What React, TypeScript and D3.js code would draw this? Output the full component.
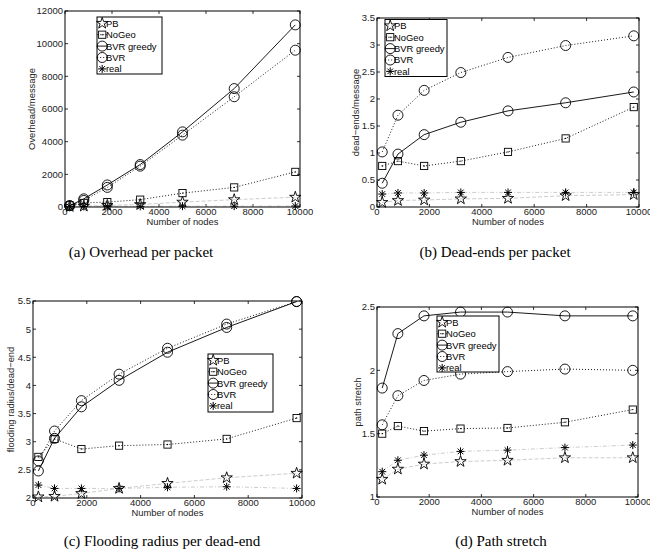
import React from "react";
import * as d3 from "d3";

// shared x values and legend names
const nodes = [200, 800, 1800, 3200, 5000, 7200, 9800];
const xTicks = [0, 2000, 4000, 6000, 8000, 10000];
const names = ["PB", "NoGeo", "BVR greedy", "BVR", "real"];

// (a) Overhead per packet
const overheadPB = [30, 50, 100, 150, 300, 450, 600];
const overheadNoGeo = [100, 250, 300, 450, 850, 1200, 2150];
const overheadGreedy = [80, 500, 1350, 2600, 4600, 7250, 11150];
const overheadBVR = [80, 400, 1200, 2500, 4400, 6750, 9600];
const overheadReal = [20, 30, 40, 40, 50, 50, 60];
const overheadTicks = [0, 2000, 4000, 6000, 8000, 10000, 12000];

// (b) Dead-ends per packet
const deadPB = [0.085, 0.12, 0.13, 0.15, 0.16, 0.21, 0.23];
const deadNoGeo = [0.76, 0.85, 0.76, 0.85, 1.02, 1.27, 1.85];
const deadGreedy = [0.44, 0.98, 1.34, 1.57, 1.78, 1.93, 2.13];
const deadBVR = [1.02, 1.7, 2.16, 2.49, 2.77, 2.99, 3.17];
const deadReal = [0.24, 0.26, 0.26, 0.27, 0.27, 0.27, 0.27];
const deadTicks = [0, 0.5, 1, 1.5, 2, 2.5, 3, 3.5];

// (c) Flooding radius per dead-end
const floodPB = [2.02, 2.03, 2.08, 2.17, 2.26, 2.36, 2.44];
const floodNoGeo = [2.73, 3.05, 2.87, 2.93, 2.95, 3.05, 3.42];
const floodGreedy = [2.48, 3.06, 3.62, 4.09, 4.59, 5.03, 5.49];
const floodBVR = [2.66, 3.19, 3.73, 4.2, 4.66, 5.09, 5.49];
const floodReal = [2.23, 2.17, 2.17, 2.17, 2.19, 2.2, 2.17];
const floodTicks = [2, 2.5, 3, 3.5, 4, 4.5, 5, 5.5];

// (d) Path stretch
const stretchPB = [1.14, 1.22, 1.26, 1.28, 1.29, 1.31, 1.31];
const stretchNoGeo = [1.5, 1.56, 1.52, 1.54, 1.545, 1.59, 1.69];
const stretchGreedy = [1.86, 2.29, 2.43, 2.46, 2.46, 2.43, 2.43];
const stretchBVR = [1.57, 1.8, 1.92, 1.97, 1.99, 2.01, 2.0];
const stretchReal = [1.2, 1.29, 1.33, 1.36, 1.37, 1.39, 1.41];
const stretchTicks = [1, 1.5, 2, 2.5];

const AXIS_FONT = "'Liberation Sans', Arial, sans-serif";
const CAPTION_FONT = "'Liberation Serif', 'Times New Roman', serif";
const GRAY = "#c6c6c6";

const styles = [
  { marker: "star", stroke: GRAY, dash: "4,2" },
  { marker: "square", stroke: "#000", dash: "1,2" },
  { marker: "circle", stroke: "#000", dash: undefined },
  { marker: "circle", stroke: "#000", dash: "1,2" },
  { marker: "asterisk", stroke: GRAY, dash: "4,2,1,2" },
];

const starPath = d3.symbol(d3.symbolStar, 40)() || "";

function Marker({ kind, x, y }: { kind: string; x: number; y: number }) {
  const common = { fill: "none", stroke: "#000", strokeWidth: 0.9 };
  if (kind === "star") {
    return <path d={starPath} transform={`translate(${x},${y})`} {...common} />;
  }
  if (kind === "square") {
    return (
      <g>
        <rect x={x - 3.6} y={y - 3.6} width={7.2} height={7.2} {...common} />
        <circle cx={x} cy={y} r={0.7} fill="#000" />
      </g>
    );
  }
  if (kind === "circle") {
    return <circle cx={x} cy={y} r={5} {...common} />;
  }
  // asterisk: 4 strokes through the centre
  const r = 4;
  const a = r * Math.SQRT1_2;
  return (
    <path
      d={`M${x - r},${y}H${x + r}M${x},${y - r}V${y + r}M${x - a},${y - a}L${x + a},${y + a}M${x - a},${y + a}L${x + a},${y - a}`}
      stroke="#000"
      strokeWidth={1}
      fill="none"
    />
  );
}

interface PanelProps {
  box: { x0: number; x1: number; y0: number; y1: number };
  yDomain: [number, number];
  yTicks: number[];
  yLabel: string;
  yLabelX: number;
  series: number[][];
  legend: { x: number; y: number; w: number; h: number };
  caption: string;
  captionX: number;
  captionY: number;
}

function Panel({ box, yDomain, yTicks, yLabel, yLabelX, series, legend, caption, captionX, captionY }: PanelProps) {
  const x = d3.scaleLinear().domain([0, 10000]).range([box.x0, box.x1]);
  const y = d3.scaleLinear().domain(yDomain).range([box.y1, box.y0]);
  const line = d3
    .line<number>()
    .x((_, i) => x(nodes[i]))
    .y((d) => y(d));
  const tl = 3;
  const yMid = (box.y0 + box.y1) / 2;

  return (
    <g>
      {/* ticks on all four sides, pointing inward */}
      {xTicks.map((t) => (
        <g key={"x" + t}>
          <line x1={x(t)} x2={x(t)} y1={box.y1} y2={box.y1 - tl} stroke="#000" strokeWidth={0.8} />
          <line x1={x(t)} x2={x(t)} y1={box.y0} y2={box.y0 + tl} stroke="#000" strokeWidth={0.8} />
          <text x={x(t)} y={box.y1 + 8} textAnchor="middle" fontSize={9.5} fill="#222" fontFamily={AXIS_FONT}>
            {t}
          </text>
        </g>
      ))}
      {yTicks.map((t) => (
        <g key={"y" + t}>
          <line x1={box.x0} x2={box.x0 + tl} y1={y(t)} y2={y(t)} stroke="#000" strokeWidth={0.8} />
          <line x1={box.x1} x2={box.x1 - tl} y1={y(t)} y2={y(t)} stroke="#000" strokeWidth={0.8} />
          <text x={box.x0 - 2} y={y(t) + 3.4} textAnchor="end" fontSize={9.5} fill="#222" fontFamily={AXIS_FONT}>
            {t}
          </text>
        </g>
      ))}
      <text
        x={(box.x0 + box.x1) / 2}
        y={box.y1 + 18}
        textAnchor="middle"
        fontSize={9.4}
        fill="#222"
        fontFamily={AXIS_FONT}
      >
        Number of nodes
      </text>
      <text
        transform={`translate(${yLabelX},${yMid}) rotate(-90)`}
        textAnchor="middle"
        fontSize={9.4}
        fill="#222"
        fontFamily={AXIS_FONT}
      >
        {yLabel}
      </text>

      {/* series lines then markers */}
      {series.map((vals, si) => (
        <path
          key={"l" + si}
          d={line(vals) || ""}
          fill="none"
          stroke={styles[si].stroke}
          strokeWidth={0.9}
          strokeDasharray={styles[si].dash}
        />
      ))}
      {series.map((vals, si) =>
        vals.map((v, i) => <Marker key={`m${si}-${i}`} kind={styles[si].marker} x={x(nodes[i])} y={y(v)} />)
      )}

      <rect x={box.x0} y={box.y0} width={box.x1 - box.x0} height={box.y1 - box.y0} fill="none" stroke="#000" strokeWidth={1} />

      {/* legend */}
      <rect x={legend.x} y={legend.y} width={legend.w} height={legend.h} fill="#fff" stroke="#000" strokeWidth={1} />
      {names.map((n, i) => {
        const cy = legend.y + 6.3 + i * 11.4;
        const cx = legend.x + 5.2;
        return (
          <g key={"lg" + i}>
            <line
              x1={cx - 5}
              x2={cx + 5}
              y1={cy}
              y2={cy}
              stroke={styles[i].stroke}
              strokeWidth={0.9}
              strokeDasharray={styles[i].dash}
            />
            <Marker kind={styles[i].marker} x={cx} y={cy} />
            <text x={legend.x + 9} y={cy + 3.4} fontSize={9.4} fill="#000" fontFamily={AXIS_FONT}>
              {n}
            </text>
          </g>
        );
      })}

      <text x={captionX} y={captionY} textAnchor="middle" fontSize={15} fill="#000" fontFamily={CAPTION_FONT}>
        {caption}
      </text>
    </g>
  );
}

export default function App() {
  return (
    <svg
      width={650}
      height={553}
      style={{ position: "absolute", left: 0, top: 0, background: "#fff" }}
    >
      <Panel
        box={{ x0: 65, x1: 300, y0: 11, y1: 207 }}
        yDomain={[0, 12000]}
        yTicks={overheadTicks}
        yLabel="Overhead/message"
        yLabelX={34.5}
        series={[overheadPB, overheadNoGeo, overheadGreedy, overheadBVR, overheadReal]}
        legend={{ x: 97, y: 17, w: 65, h: 57 }}
        caption="(a) Overhead per packet"
        captionX={141}
        captionY={257}
      />
      <Panel
        box={{ x0: 377, x1: 639, y0: 18, y1: 207 }}
        yDomain={[0, 3.5]}
        yTicks={deadTicks}
        yLabel="dead−ends/message"
        yLabelX={359}
        series={[deadPB, deadNoGeo, deadGreedy, deadBVR, deadReal]}
        legend={{ x: 385, y: 19.5, w: 62, h: 57 }}
        caption="(b) Dead-ends per packet"
        captionX={495}
        captionY={257}
      />
      <Panel
        box={{ x0: 33, x1: 302, y0: 301, y1: 498 }}
        yDomain={[2, 5.5]}
        yTicks={floodTicks}
        yLabel="flooding radius/dead−end"
        yLabelX={14}
        series={[floodPB, floodNoGeo, floodGreedy, floodBVR, floodReal]}
        legend={{ x: 208, y: 354, w: 65, h: 58 }}
        caption="(c) Flooding radius per dead-end"
        captionX={162}
        captionY={546}
      />
      <Panel
        box={{ x0: 377, x1: 638, y0: 307, y1: 497 }}
        yDomain={[1, 2.5]}
        yTicks={stretchTicks}
        yLabel="path stretch"
        yLabelX={360.5}
        series={[stretchPB, stretchNoGeo, stretchGreedy, stretchBVR, stretchReal]}
        legend={{ x: 437, y: 316, w: 62, h: 56 }}
        caption="(d) Path stretch"
        captionX={501}
        captionY={546}
      />
    </svg>
  );
}
